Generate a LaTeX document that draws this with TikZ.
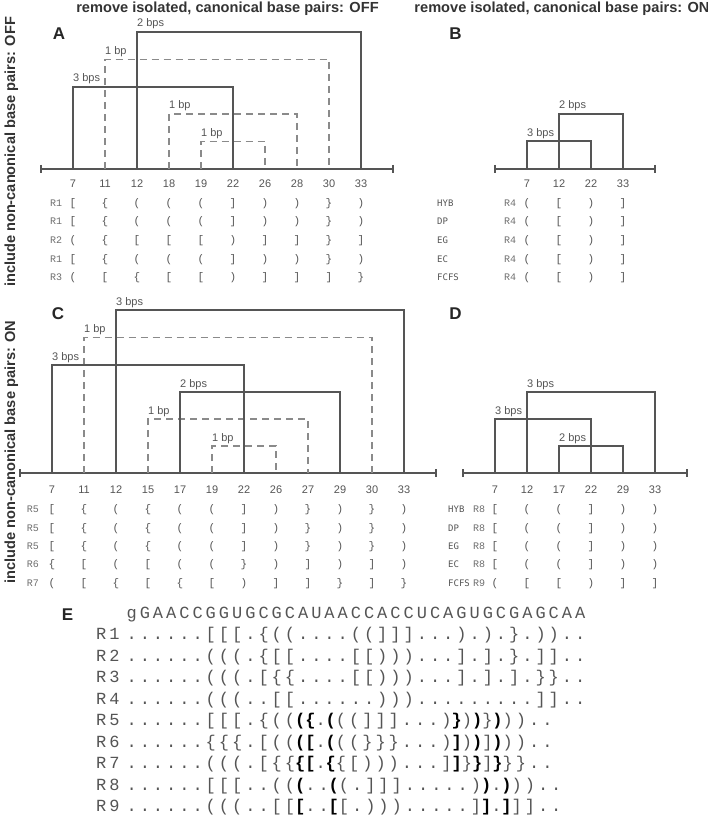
\documentclass[tikz,border=0pt]{standalone}
\usepackage{fontspec}
\setmainfont{Liberation Sans}
\newfontfamily\brkfont{Liberation Mono}
\newfontfamily\methfont{DejaVu Sans Mono}
\newfontfamily\seqfont[LetterSpace=17.6]{Liberation Mono}
\definecolor{linegray}{HTML}{555555}
\definecolor{dashgray}{HTML}{8A8A8A}
\definecolor{txtgray}{HTML}{555555}
\definecolor{titlegray}{HTML}{333333}
\newcommand\brLs{[}
\newcommand\brRs{]}
\newcommand\brLp{(}
\newcommand\brRp{)}
\newcommand\brLc{\{}
\newcommand\brRc{\}}
\newcommand\bch[1]{{\color{black}\bfseries#1}}
% arc: #1 style, #2 x1, #3 x2, #4 top y, #5 axis y, #6 label, #7 name
\newcommand\bparc[7]{%
  \draw[#1] (#2,#5) |- (#3,#4) -- (#3,#5);
  \node[bplabel] (#7) at (#2,#4-5) {#6};}
% table row: #1 name, #2 baseline y, #3 label x, #4 label, #5 first column x, #6 list
\newcommand\trow[6]{%
  \node[rlab] (#1) at (#3,#2) {#4};
  \foreach \bk [count=\i from 0] in {#6} {\node[brk] (#1-\i) at ({#5+32*\i},#2) {\bk};}}
\begin{document}
\begin{tikzpicture}[x=1pt,y=-1pt,
  solidarc/.style={draw=linegray,line width=2pt},
  dasharc/.style={draw=dashgray,line width=1.4pt,dash pattern=on 7pt off 5pt},
  axisline/.style={draw=linegray,line width=1.5pt},
  bplabel/.style={anchor=base west,inner sep=0pt,text=txtgray,font=\fontsize{11}{13}\selectfont},
  ticklab/.style={anchor=base,inner sep=0pt,text=txtgray,font=\fontsize{11}{13}\selectfont},
  brk/.style={anchor=base,inner sep=0pt,text=txtgray,font=\brkfont\fontsize{11}{13}\selectfont},
  rlab/.style={anchor=base,inner sep=0pt,text=txtgray!85,font=\brkfont\fontsize{10}{12}\selectfont},
  methlab/.style={anchor=base west,inner sep=0pt,text=txtgray,font=\methfont\fontsize{9}{12}\selectfont},
  title/.style={anchor=base,inner sep=0pt,text=titlegray,font=\bfseries\fontsize{14.6}{17}\selectfont},
  vlab/.style={anchor=base,rotate=90,inner sep=0pt,text=titlegray,font=\bfseries\fontsize{14.6}{17}\selectfont},
  panel/.style={anchor=base,inner sep=0pt,text=black!85,font=\bfseries\fontsize{17}{20}\selectfont},
  seqtxt/.style={anchor=base west,inner sep=0pt,text=txtgray,font=\seqfont\fontsize{17}{20}\selectfont},
]
\useasboundingbox (0,0) rectangle (708,818);

% titles
\node[title] (tA) at (227.5,12.5) {remove isolated, canonical base pairs: OFF};
\node[title] (tB) at (562,12.5) {remove isolated, canonical base pairs: ON};
\node[vlab] (vOFF) at (15,152) {include non-canonical base pairs: OFF};
\node[vlab] (vON) at (15,452) {include non-canonical base pairs: ON};

% panel letters
\node[panel] (pA) at (59,40) {A};
\node[panel] (pB) at (455.5,40) {B};
\node[panel] (pC) at (58,319) {C};
\node[panel] (pD) at (455.5,319) {D};
\node[panel] (pE) at (67.5,620) {E};

% ---------------- panel A ----------------
\draw[axisline] (41,169) -- (393,169);
\draw[axisline] (41,165) -- (41,173);
\draw[axisline] (393,165) -- (393,173);
\bparc{dasharc}{201}{265}{141.5}{169}{1 bp}{aL1}
\bparc{dasharc}{169}{297}{114}{169}{1 bp}{aL2}
\bparc{dasharc}{105}{329}{59.5}{169}{1 bp}{aL4}
\bparc{solidarc}{73}{233}{87}{169}{3 bps}{aL3}
\bparc{solidarc}{137}{361}{32}{169}{2 bps}{aL5}
\foreach \t [count=\i from 0] in {7,11,12,18,19,22,26,28,30,33}
  {\node[ticklab] (aT\i) at ({73+32*\i},187.5) {\t};}
\trow{aR1}{206.5}{56}{R1}{73}{\brLs,\brLc,\brLp,\brLp,\brLp,\brRs,\brRp,\brRp,\brRc,\brRp}
\trow{aR2}{225}{56}{R1}{73}{\brLs,\brLc,\brLp,\brLp,\brLp,\brRs,\brRp,\brRp,\brRc,\brRp}
\trow{aR3}{243.5}{56}{R2}{73}{\brLp,\brLc,\brLs,\brLs,\brLs,\brRp,\brRs,\brRs,\brRc,\brRs}
\trow{aR4}{262}{56}{R1}{73}{\brLs,\brLc,\brLp,\brLp,\brLp,\brRs,\brRp,\brRp,\brRc,\brRp}
\trow{aR5}{280.5}{56}{R3}{73}{\brLp,\brLs,\brLc,\brLs,\brLs,\brRp,\brRs,\brRs,\brRs,\brRc}

% ---------------- panel B ----------------
\draw[axisline] (495,169) -- (655,169);
\draw[axisline] (495,165) -- (495,173);
\draw[axisline] (655,165) -- (655,173);
\bparc{solidarc}{527}{591}{141.5}{169}{3 bps}{bL1}
\bparc{solidarc}{559}{623}{114}{169}{2 bps}{bL2}
\foreach \t [count=\i from 0] in {7,12,22,33}
  {\node[ticklab] (bT\i) at ({527+32*\i},187.5) {\t};}
\foreach \m/\y [count=\k] in {HYB/206.5,DP/225,EG/243.5,EC/262,FCFS/280.5}
  {\node[methlab] (bM\k) at (437,\y) {\m};
   \trow{bR\k}{\y}{510}{R4}{527}{\brLp,\brLs,\brRp,\brRs}}

% ---------------- panel C ----------------
\draw[axisline] (20,473) -- (436,473);
\draw[axisline] (20,469) -- (20,477);
\draw[axisline] (436,469) -- (436,477);
\bparc{dasharc}{212}{276}{446}{473}{1 bp}{cL1}
\bparc{dasharc}{148}{308}{419}{473}{1 bp}{cL2}
\bparc{dasharc}{84}{372}{337.5}{473}{1 bp}{cL5}
\bparc{solidarc}{180}{340}{392}{473}{2 bps}{cL3}
\bparc{solidarc}{52}{244}{365}{473}{3 bps}{cL4}
\bparc{solidarc}{116}{404}{310}{473}{3 bps}{cL6}
\foreach \t [count=\i from 0] in {7,11,12,15,17,19,22,26,27,29,30,33}
  {\node[ticklab] (cT\i) at ({52+32*\i},493) {\t};}
\trow{cR1}{512.5}{33}{R5}{52}{\brLs,\brLc,\brLp,\brLc,\brLp,\brLp,\brRs,\brRp,\brRc,\brRp,\brRc,\brRp}
\trow{cR2}{531}{33}{R5}{52}{\brLs,\brLc,\brLp,\brLc,\brLp,\brLp,\brRs,\brRp,\brRc,\brRp,\brRc,\brRp}
\trow{cR3}{549}{33}{R5}{52}{\brLs,\brLc,\brLp,\brLc,\brLp,\brLp,\brRs,\brRp,\brRc,\brRp,\brRc,\brRp}
\trow{cR4}{567.5}{33}{R6}{52}{\brLc,\brLs,\brLp,\brLs,\brLp,\brLp,\brRc,\brRp,\brRs,\brRp,\brRs,\brRp}
\trow{cR5}{586}{33}{R7}{52}{\brLp,\brLs,\brLc,\brLs,\brLc,\brLs,\brRp,\brRs,\brRs,\brRc,\brRs,\brRc}

% ---------------- panel D ----------------
\draw[axisline] (463,473) -- (687,473);
\draw[axisline] (463,469) -- (463,477);
\draw[axisline] (687,469) -- (687,477);
\bparc{solidarc}{559}{623}{446}{473}{2 bps}{dL1}
\bparc{solidarc}{495}{591}{419}{473}{3 bps}{dL2}
\bparc{solidarc}{527}{655}{392}{473}{3 bps}{dL3}
\foreach \t [count=\i from 0] in {7,12,17,22,29,33}
  {\node[ticklab] (dT\i) at ({495+32*\i},493) {\t};}
\foreach \m/\y [count=\k] in {HYB/512.5,DP/531,EG/549,EC/567.5}
  {\node[methlab] (dM\k) at (448,\y) {\m};
   \trow{dR\k}{\y}{479}{R8}{495}{\brLs,\brLp,\brLp,\brRs,\brRp,\brRp}}
\node[methlab] (dM5) at (448,586) {FCFS};
\trow{dR5}{586}{479}{R9}{495}{\brLp,\brLs,\brLs,\brRp,\brRs,\brRs}

% ---------------- panel E ----------------
\node[seqtxt] (eSeq) at (126.4,618) {gGAACCGGUGCGCAUAACCACCUCAGUGCGAGCAA};
\node[seqtxt] (eL1) at (96,639.5) {R1};
\node[seqtxt] (eS1) at (126.4,639.5) {......[[[.\{((....((]]]...).).\}.))..};
\node[seqtxt] (eL2) at (96,661) {R2};
\node[seqtxt] (eS2) at (126.4,661) {......(((.\{[[....[[)))...].].\}.]]..};
\node[seqtxt] (eL3) at (96,682.5) {R3};
\node[seqtxt] (eS3) at (126.4,682.5) {......(((.[\{\{....[[)))...].].].\}\}..};
\node[seqtxt] (eL4) at (96,704) {R4};
\node[seqtxt] (eS4) at (126.4,704) {......(((..[[......))).........]]..};
\node[seqtxt] (eL5) at (96,725.5) {R5};
\node[seqtxt] (eS5) at (126.4,725.5) {......[[[.\{((\bch{(}\bch{\{}.\bch{(}((]]]...)\bch{\}})\bch{)}\}\bch{)})).. };
\node[seqtxt] (eL6) at (96,747) {R6};
\node[seqtxt] (eS6) at (126.4,747) {......\{\{\{.[((\bch{(}\bch{[}.\bch{(}((\}\}\}...)\bch{]})\bch{)}]\bch{)}))..};
\node[seqtxt] (eL7) at (96,768.5) {R7};
\node[seqtxt] (eS7) at (126.4,768.5) {......(((.[\{\{\bch{\{}\bch{[}.\bch{\{}\{[)))...]\bch{]}\}\bch{\}}]\bch{\}}\}\}..};
\node[seqtxt] (eL8) at (96,790) {R8};
\node[seqtxt] (eS8) at (126.4,790) {......[[[..((\bch{(}..\bch{(}(.]]].....)\bch{)}.\bch{)}))..};
\node[seqtxt] (eL9) at (96,811.5) {R9};
\node[seqtxt] (eS9) at (126.4,811.5) {......(((..[[\bch{[}..\bch{[}[.))).....]\bch{]}.\bch{]}]]..};
\end{tikzpicture}
\end{document}
